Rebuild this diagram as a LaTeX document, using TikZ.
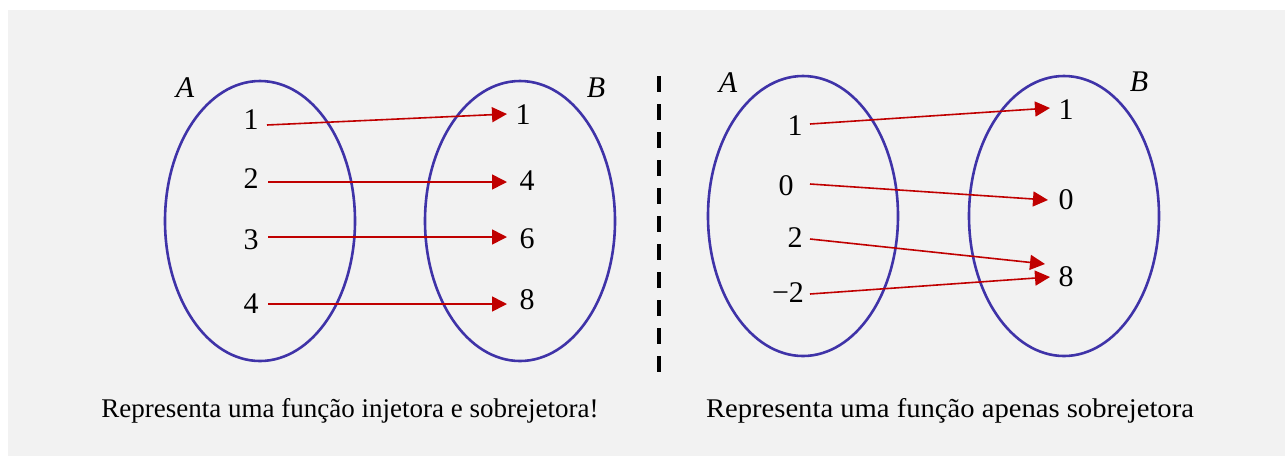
\documentclass[tikz,border=0pt]{standalone}
\usepackage{fontspec}
\setmainfont{Liberation Serif}
\usetikzlibrary{arrows.meta,shapes.geometric,calc}
\definecolor{bgc}{HTML}{F2F2F2}
\definecolor{ellc}{HTML}{3F33A8}
\definecolor{arrc}{HTML}{C00000}
\begin{document}
\begin{tikzpicture}[x=1pt,y=-1pt,
  setell/.style={draw=ellc, line width=2.6pt, ellipse, minimum width=190pt, minimum height=280pt, inner sep=0pt},
  num/.style={inner sep=0pt, font=\fontsize{30}{31}\selectfont},
  setlbl/.style={inner sep=0pt, font=\fontsize{30}{31}\selectfont\itshape},
  maparrow/.style={draw=arrc, line width=1.6pt, -{Triangle[length=15pt,width=15pt]}},
  captxt/.style={inner sep=0pt, anchor=base, font=\fontsize{27}{30}\selectfont},
  sep/.style={line width=3.5pt, dash pattern=on 16pt off 12pt}
]
\useasboundingbox (0,0) rectangle (1285,456);
\fill[white] (0,0) rectangle (1285,456);
\fill[bgc] (8,10) rectangle (1285,456);

% left diagram
\node[setell] (LA) at (260,221) {};
\node[setell] (LB) at (520,221) {};
\node[setlbl] (LAl) at (185,88) {A};
\node[setlbl] (LBl) at (596,88) {B};
\node[num] (la1) at (251,120) {1};
\node[num] (la2) at (251,179) {2};
\node[num] (la3) at (251,240) {3};
\node[num] (la4) at (251,304) {4};
\node[num] (lb1) at (523,115) {1};
\node[num] (lb4) at (527,181) {4};
\node[num] (lb6) at (527,239) {6};
\node[num] (lb8) at (527,300) {8};
\draw[maparrow] ($(la1.center)+(16,5)$) -- ($(lb1.center)+(-16,-1)$);
\draw[maparrow] ($(la2.center)+(17,3)$) -- ($(lb4.center)+(-20,1)$);
\draw[maparrow] ($(la3.center)+(17,-3)$) -- ($(lb6.center)+(-20,-2)$);
\draw[maparrow] ($(la4.center)+(17,0)$) -- ($(lb8.center)+(-20,4)$);
\node[captxt] (capL) at (350,417) {Representa uma função injetora e sobrejetora!};

% separator
\coordinate (sepTop) at (659,76);
\coordinate (sepBot) at (659,372);
\draw[sep] (sepTop) -- (sepBot);

% right diagram
\node[setell] (RA) at (803,216) {};
\node[setell] (RB) at (1064,216) {};
\node[setlbl] (RAl) at (728,83) {A};
\node[setlbl] (RBl) at (1139,82) {B};
\node[num] (ra1) at (795,126) {1};
\node[num] (ra0) at (786,186) {0};
\node[num] (ra2) at (795,238) {2};
\node[num] (ram2) at (788,293) {−2};
\node[num] (rb1) at (1066,110) {1};
\node[num] (rb0) at (1066,200) {0};
\node[num] (rb8) at (1066,277) {8};
\draw[maparrow] ($(ra1.center)+(15,-2)$) -- ($(rb1.center)+(-16,-2)$);
\draw[maparrow] ($(ra0.center)+(24,-2)$) -- ($(rb0.center)+(-18,0)$);
\draw[maparrow] ($(ra2.center)+(15,1)$) -- ($(rb8.center)+(-21,-13)$);
\draw[maparrow] ($(ram2.center)+(22,1)$) -- ($(rb8.center)+(-16,0)$);
\node[captxt] (capR) at (950,417) {\scalebox{1.06}[1]{Representa uma função apenas sobrejetora}};
\end{tikzpicture}
\end{document}
